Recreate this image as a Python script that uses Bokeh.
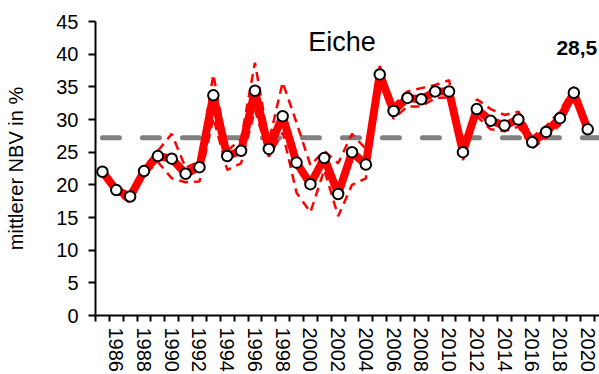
from bokeh.plotting import figure
from bokeh.models import Range1d, FixedTicker, Label, ColumnDataSource
from bokeh.embed import file_html
from bokeh.resources import INLINE

# ---- data ----
years = list(range(1985, 2021))
nbv = [22.0, 19.2, 18.2, 22.1, 24.4, 24.0, 21.7, 22.7, 33.7, 24.4,
       25.2, 34.4, 25.5, 30.5, 23.4, 20.1, 24.1, 18.6, 25.0, 23.1,
       36.9, 31.3, 33.3, 33.1, 34.3, 34.3, 25.0, 31.6, 29.8, 29.1,
       30.0, 26.5, 28.1, 30.2, 34.1, 28.5]
upper = [22.4, 19.6, 18.6, 22.8, 25.2, 27.8, 22.6, 23.6, 36.9, 25.2,
         27.0, 38.7, 26.6, 35.7, 29.5, 23.0, 25.2, 23.3, 27.8, 25.5,
         38.2, 32.2, 34.3, 34.8, 35.3, 36.0, 25.8, 33.1, 31.6, 30.7,
         31.2, 27.3, 29.0, 31.3, 35.0, 29.0]
lower = [21.6, 18.8, 17.2, 21.5, 23.5, 21.0, 20.4, 20.5, 30.3, 22.3,
         23.3, 31.5, 24.3, 28.0, 18.8, 15.8, 22.3, 15.2, 20.0, 21.0,
         35.8, 30.1, 32.0, 32.0, 33.3, 33.4, 23.8, 30.5, 28.5, 28.2,
         28.9, 25.6, 27.2, 29.2, 33.2, 28.0]
mean_value = 27.2
label_years = list(range(1986, 2021, 2))
y_ticks = [0, 5, 10, 15, 20, 25, 30, 35, 40, 45]
title_text = "Eiche"
y_title = "mittlerer NBV in %"

FONT = "Liberation Sans"

src = ColumnDataSource(dict(year=years, nbv=nbv, upper=upper, lower=lower))

p = figure(width=599, height=374,
           x_range=Range1d(years[0] - 0.5, years[-1] + 0.85),
           y_range=Range1d(y_ticks[0], y_ticks[-1]),
           output_backend="svg", toolbar_location=None,
           min_border_left=95, min_border_right=0,
           min_border_top=21, min_border_bottom=59)
p.outline_line_color = None
p.xgrid.visible = False
p.ygrid.visible = False
p.background_fill_color = "white"
p.border_fill_color = "white"

# mean line
p.line([years[0], years[-1] + 0.85], [mean_value, mean_value], line_color="#808080",
       line_width=5, line_dash="17 23", line_cap="round")

# confidence band lines
p.line("year", "upper", source=src, line_color="#FF0000", line_width=2.5, line_dash="9 6")
p.line("year", "lower", source=src, line_color="#FF0000", line_width=2.5, line_dash="9 6")

# main line
p.line("year", "nbv", source=src, line_color="#FF0000", line_width=8, line_join="round")
p.scatter("year", "nbv", source=src, size=10.5, fill_color="white",
          line_color="black", line_width=2)

# x axis
xa = p.xaxis[0]
xa.ticker = FixedTicker(ticks=label_years,
                        minor_ticks=[y - 0.5 for y in years] + [years[-1] + 0.5])
xa.major_tick_line_color = None
xa.major_tick_out = 0
xa.major_tick_in = 0
xa.minor_tick_out = 6
xa.minor_tick_in = 0
xa.minor_tick_line_color = "black"
xa.minor_tick_line_width = 2
xa.axis_line_color = "black"
xa.axis_line_width = 2
xa.major_label_orientation = "vertical"
xa.major_label_standoff = 6
xa.major_label_text_font = FONT
xa.major_label_text_font_size = "20px"
xa.major_label_text_color = "black"

# y axis
ya = p.yaxis[0]
ya.ticker = FixedTicker(ticks=y_ticks)
ya.minor_tick_line_color = None
ya.major_tick_out = 7
ya.major_tick_in = 0
ya.major_tick_line_width = 2
ya.major_tick_line_color = "black"
ya.axis_line_color = "black"
ya.axis_line_width = 2
ya.major_label_standoff = 10
ya.major_label_text_font = FONT
ya.major_label_text_font_size = "20px"
ya.major_label_text_color = "black"
ya.axis_label = y_title
ya.axis_label_text_font = FONT
ya.axis_label_text_font_size = "20px"
ya.axis_label_text_font_style = "normal"
ya.axis_label_text_color = "black"
ya.axis_label_standoff = 26

p.add_layout(Label(x=1999.85, y=41.8, text=title_text, text_font=FONT,
                   text_font_size="27px", text_color="black",
                   text_baseline="alphabetic"))
p.add_layout(Label(x=2017.74, y=40.9, text=f"{nbv[-1]:.1f}".replace(".", ","),
                   text_font=FONT, text_font_size="21px", text_font_style="bold",
                   text_color="black", text_baseline="alphabetic"))

open("out.html", "w").write(file_html(p, INLINE))
